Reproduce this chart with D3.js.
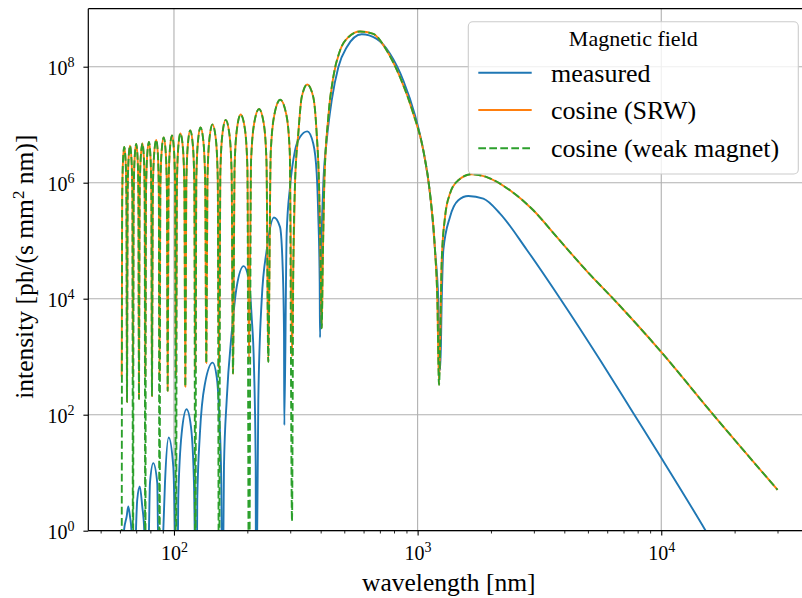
<!DOCTYPE html>
<html><head><meta charset="utf-8">
<script src="https://cdn.jsdelivr.net/npm/d3@7"></script>
<style>body{margin:0;background:#fff}svg{display:block}</style>
</head><body>
<svg id="chart" width="802" height="598"></svg>
<script>
// ---------- data ----------
const modelWavelength = [
  61.0, 61.3, 61.75, 62.5, 63.33, 63.82, 64.15,
  64.52, 65.07, 65.99, 66.94, 67.51, 67.89,
  68.31, 68.95, 70.0, 70.91, 71.46, 71.82,
  72.30, 73.03, 74.24, 75.24, 75.83, 76.23,
  76.77, 77.59, 78.94, 80.08, 80.76, 81.21,
  81.88, 82.90, 84.58, 85.89, 86.67, 87.19,
  87.90, 88.96, 90.72, 92.47, 93.52, 94.22,
  95.0, 96.18, 98.13, 100.0, 101.1, 101.9,
  102.8, 104.1, 106.3, 108.8, 110.3, 111.3,
  112.4, 114.0, 116.6, 119.5, 121.2, 122.3,
  123.5, 125.4, 128.5, 132.1, 134.3, 135.7,
  137.3, 139.8, 143.9, 148.5, 151.2, 153.0,
  155.0, 158.0, 163.0, 168.9, 172.4, 174.7,
  177.3, 181.3, 187.8, 195.5, 200.1, 203.2,
  207.2, 213.3, 223.4, 233.6, 239.7, 243.8,
  249.6, 258.4, 272.9, 289.0, 298.7, 305.1,
  308.9, 313.9, 323.8, 334.4, 352.5, 373.1, 385.3, 393.8, 400.2, 404.0,
  407.8, 414.0, 429.9, 450.7, 480.3, 519.4, 580.2, 658.0, 746.9, 846.9, 960.3, 1055.4, 1124.4, 1178.8, 1204.9, 1224,
  1256, 1296, 1358, 1469, 1668, 1922, 2394, 2985, 3724, 4946, 6567, 10010, 16370, 30000
];
const srwIntensity = [
  457, 5.2e5, 2.32e6, 4.12e6, 2.32e6, 5.2e5, 166,
  5.5e5, 2.45e6, 4.36e6, 2.45e6, 5.5e5, 457,
  5.9e5, 2.63e6, 4.68e6, 2.63e6, 5.9e5, 186,
  6.0e5, 2.68e6, 4.76e6, 2.68e6, 6.0e5, 457,
  6.4e5, 2.84e6, 5.06e6, 2.84e6, 6.4e5, 209,
  6.9e5, 3.07e6, 5.47e6, 3.07e6, 6.9e5, 500,
  7.6e5, 3.39e6, 6.04e6, 3.39e6, 7.6e5, 257,
  8.3e5, 3.68e6, 6.55e6, 3.68e6, 8.3e5, 500,
  8.9e5, 3.98e6, 7.08e6, 3.98e6, 8.9e5, 302,
  1.0e6, 4.48e6, 7.98e6, 4.48e6, 1.0e6, 562,
  1.13e6, 5.05e6, 8.99e6, 5.05e6, 1.13e6, 776,
  1.27e6, 5.7e6, 1.01e7, 5.7e6, 1.27e6, 631,
  1.52e6, 6.8e6, 1.21e7, 6.8e6, 1.52e6, 513,
  1.89e6, 8.4e6, 1.50e7, 8.4e6, 1.89e6, 794,
  2.36e6, 1.05e7, 1.87e7, 1.05e7, 2.36e6, 813,
  3.4e6, 1.51e7, 2.69e7, 1.51e7, 3.4e6, 1000,
  3.54e4, 9.66e5, 7.0e6, 2.99e7, 4.94e7, 2.99e7, 7.0e6, 9.66e5, 3.54e4, 3080,
  3.54e4, 9.66e5, 1.35e7, 6.59e7, 1.90e8, 3.22e8, 4.04e8, 3.68e8, 1.90e8, 6.59e7, 1.55e7, 3.61e6, 6.49e5, 6.85e4, 9.46e3, 326,
  4.61e4, 2.57e5, 6.49e5, 1.10e6, 1.40e6, 1.25e6, 7.40e5, 3.35e5, 1.16e5, 3.0e4, 8.6e3, 1.2e3, 99.3, 5.08
];
const weakMagnetIntensity = [
  0.01, 5.2e5, 2.32e6, 4.12e6, 2.32e6, 5.2e5, 166,
  5.5e5, 2.45e6, 4.36e6, 2.45e6, 5.5e5, 0.01,
  5.9e5, 2.63e6, 4.68e6, 2.63e6, 5.9e5, 186,
  6.0e5, 2.68e6, 4.76e6, 2.68e6, 6.0e5, 0.01,
  6.4e5, 2.84e6, 5.06e6, 2.84e6, 6.4e5, 209,
  6.9e5, 3.07e6, 5.47e6, 3.07e6, 6.9e5, 0.01,
  7.6e5, 3.39e6, 6.04e6, 3.39e6, 7.6e5, 257,
  8.3e5, 3.68e6, 6.55e6, 3.68e6, 8.3e5, 0.01,
  8.9e5, 3.98e6, 7.08e6, 3.98e6, 8.9e5, 302,
  1.0e6, 4.48e6, 7.98e6, 4.48e6, 1.0e6, 0.01,
  1.13e6, 5.05e6, 8.99e6, 5.05e6, 1.13e6, 776,
  1.27e6, 5.7e6, 1.01e7, 5.7e6, 1.27e6, 0.01,
  1.52e6, 6.8e6, 1.21e7, 6.8e6, 1.52e6, 513,
  1.89e6, 8.4e6, 1.50e7, 8.4e6, 1.89e6, 0.01,
  2.36e6, 1.05e7, 1.87e7, 1.05e7, 2.36e6, 813,
  3.4e6, 1.51e7, 2.69e7, 1.51e7, 3.4e6, 1.45,
  3.54e4, 9.66e5, 7.0e6, 2.99e7, 4.94e7, 2.99e7, 7.0e6, 9.66e5, 3.54e4, 3080,
  3.54e4, 9.66e5, 1.35e7, 6.59e7, 1.90e8, 3.22e8, 4.04e8, 3.68e8, 1.90e8, 6.59e7, 1.55e7, 3.61e6, 6.49e5, 6.85e4, 9.46e3, 326,
  4.61e4, 2.57e5, 6.49e5, 1.10e6, 1.40e6, 1.25e6, 7.40e5, 3.35e5, 1.16e5, 3.0e4, 8.6e3, 1.2e3, 99.3, 5.08
];
const measuredWavelength = [
  61.0, 62.34, 63.96, 64.93, 65.99, 66.93, 68.2,
  69.82, 70.67, 72.37, 74.1, 75.52, 76.74,
  78.94, 79.69, 82.22, 85.4, 85.96, 88.03,
  90.39, 91.85, 95.11, 99.34, 100.95, 102.9,
  104.1, 107.55, 112.6, 117.4, 120.8, 123.7,
  124.6, 127.8, 134.1, 144.2, 149.7, 153.5, 156.4, 157.9,
  160.4, 164.6, 172.5, 180.9, 193.2, 201.8, 208.4, 213.0, 216.5, 217.1,
  221.9, 229.1, 240.2, 257.3, 272.3, 279.3, 282.9, 283.7,
  290.1, 299.4, 313.9, 329.0, 352.5, 373.1, 385.3, 391.2, 396.4, 397.6,
  404.0, 410.2, 423.6, 444.0, 472.6, 511.7, 589.5, 679.4, 770.4, 873.7, 975.7, 1055.4, 1124.4, 1178.8, 1216, 1239,
  1256, 1275, 1358, 1469, 1615, 1861, 2179, 2805, 3843, 5609, 7684, 10010, 15130, 30000
];
const measuredIntensity = [
  0.01, 1, 1.76, 2.62, 1.76, 1, 0.01,
  1, 3.42, 5.78, 2.62, 1, 0.01,
  1, 6.62, 14.6, 6.62, 1, 0.01,
  1, 6.62, 40.4, 12.8, 1, 0.01,
  3.42, 47.9, 124, 62.4, 6.62, 0.01,
  3.42, 47.9, 347, 789, 453, 92.7, 6.62, 0.01,
  12.8, 180, 2.53e3, 1.60e4, 3.64e4, 2.38e4, 4.88e3, 673, 12.8, 0.01,
  180, 9.46e3, 6.85e4, 2.51e5, 1.73e5, 3.54e4, 2.56e3, 66,
  1.35e5, 8.43e5, 3.61e6, 6.12e6, 7.67e6, 4.71e6, 1.44e6, 2.57e5, 1.83e4, 2.14e3,
  1.35e5, 9.66e5, 5.37e6, 2.62e7, 9.82e7, 2.17e8, 3.62e8, 3.02e8, 1.67e8, 5.78e7, 1.45e7, 3.61e6, 6.49e5, 6.85e4, 9.46e3, 589,
  9.46e3, 6.85e4, 2.57e5, 4.98e5, 5.90e5, 5.32e5, 2.94e5, 7.0e4, 1.01e4, 877, 106, 17.9, 1.04, 0.0063
];
const xMajorTicks = [100, 1000, 10000];
const xMajorExponents = ["2", "3", "4"];
const xMinorTicks = [50, 60, 70, 80, 90, 200, 300, 400, 500, 600, 700, 800, 900,
  2000, 3000, 4000, 5000, 6000, 7000, 8000, 9000, 20000, 30000, 40000];
const yMajorTicks = [1, 1e2, 1e4, 1e6, 1e8];
const yMajorExponents = ["0", "2", "4", "6", "8"];
const seriesNames = ["measured", "cosine (SRW)", "cosine (weak magnet)"];
const seriesColors = ["#1f77b4", "#ff7f0e", "#2ca02c"];
const legendTitle = "Magnetic field";
const xLabel = "wavelength [nm]";

// ---------- layout ----------
const L = 88.3, R = 810.3, T = 8.7, B = 530.7;
const svg = d3.select("#chart");
const x = d3.scaleLog().domain([44.5, 40900]).range([L, R]);
const y = d3.scaleLog().domain([1, 1e9]).range([B, T]);
const FONT = "'Liberation Serif', 'DejaVu Serif', serif";

svg.append("defs").append("clipPath").attr("id", "plotclip")
  .append("rect").attr("x", L).attr("y", T).attr("width", R - L).attr("height", B - T);

// grid
const grid = svg.append("g").attr("stroke", "#b0b0b0").attr("stroke-width", 1.1);
xMajorTicks.forEach(v => grid.append("line").attr("x1", x(v)).attr("x2", x(v)).attr("y1", T).attr("y2", B));
yMajorTicks.forEach(v => grid.append("line").attr("x1", L).attr("x2", R).attr("y1", y(v)).attr("y2", y(v)));

// lines
const line = d3.line()
  .x(d => x(d[0]))
  .y(d => y(Math.max(d[1], 1e-4)))
  .curve(d3.curveMonotoneX);
const plot = svg.append("g").attr("clip-path", "url(#plotclip)");
const measured = measuredWavelength.map((w, i) => [w, measuredIntensity[i]]);
const srw = modelWavelength.map((w, i) => [w, srwIntensity[i]]);
const weak = modelWavelength.map((w, i) => [w, weakMagnetIntensity[i]]);
plot.append("path").datum(measured).attr("d", line).attr("fill", "none")
  .attr("stroke", seriesColors[0]).attr("stroke-width", 1.9).attr("stroke-linejoin", "round");
plot.append("path").datum(srw).attr("d", line).attr("fill", "none")
  .attr("stroke", seriesColors[1]).attr("stroke-width", 1.9).attr("stroke-linejoin", "round");
plot.append("path").datum(weak).attr("d", line).attr("fill", "none")
  .attr("stroke", seriesColors[2]).attr("stroke-width", 1.9).attr("stroke-dasharray", "7.7,3.3");

// spines
const sp = svg.append("g").attr("stroke", "#000").attr("stroke-width", 1.2).attr("fill", "none");
sp.append("line").attr("x1", L).attr("x2", L).attr("y1", T).attr("y2", B);
sp.append("line").attr("x1", L).attr("x2", R).attr("y1", B).attr("y2", B);
sp.append("line").attr("x1", L).attr("x2", R).attr("y1", T).attr("y2", T);

// axes
const gxMinor = svg.append("g").attr("transform", `translate(0,${B})`)
  .call(d3.axisBottom(x).tickValues(xMinorTicks).tickSize(2.8).tickFormat(() => ""));
gxMinor.select(".domain").remove();
gxMinor.selectAll(".tick line").attr("stroke-width", 0.85);

const gx = svg.append("g").attr("transform", `translate(0,${B})`)
  .call(d3.axisBottom(x).tickValues(xMajorTicks).tickSize(4.9));
gx.select(".domain").remove();
gx.selectAll(".tick line").attr("stroke-width", 1.1);
gx.selectAll(".tick text").each(function(d, i) {
  const t = d3.select(this).text(null).attr("dy", null).attr("y", 29.3)
    .attr("font-family", FONT).attr("font-size", 20).attr("fill", "#000");
  t.append("tspan").text("10");
  t.append("tspan").attr("dy", -8).attr("font-size", 14).text(xMajorExponents[i]);
});

const gy = svg.append("g").attr("transform", `translate(${L},0)`)
  .call(d3.axisLeft(y).tickValues(yMajorTicks).tickSize(4.9).tickPadding(9));
gy.select(".domain").remove();
gy.selectAll(".tick line").attr("stroke-width", 1.1);
gy.selectAll(".tick text").each(function(d, i) {
  const t = d3.select(this).text(null).attr("dy", null).attr("y", 7.3)
    .attr("font-family", FONT).attr("font-size", 20).attr("fill", "#000");
  t.append("tspan").text("10");
  t.append("tspan").attr("dy", -8).attr("font-size", 14).text(yMajorExponents[i]);
});
svg.selectAll(".tick text").attr("font-family", FONT);

// axis labels
svg.append("text").attr("x", (L + R) / 2 - 0.5).attr("y", 590.5).attr("text-anchor", "middle")
  .attr("font-family", FONT).attr("font-size", 25.5).text(xLabel);
const yl = svg.append("text").attr("transform", "translate(32.5,266.7) rotate(-90)")
  .attr("text-anchor", "middle").attr("font-family", FONT).attr("font-size", 25.5);
yl.append("tspan").text("intensity [ph/(s mm");
yl.append("tspan").attr("dy", -9).attr("font-size", 17).text("2");
yl.append("tspan").attr("dy", 9).text(" nm)]");

// legend
const lg = svg.append("g");
lg.append("rect").attr("x", 468.3).attr("y", 21.7).attr("width", 330).attr("height", 152.3)
  .attr("rx", 4.5).attr("fill", "#fff").attr("fill-opacity", 0.8)
  .attr("stroke", "#cccccc").attr("stroke-width", 1.1);
lg.append("text").attr("x", 633.3).attr("y", 45.7).attr("text-anchor", "middle")
  .attr("font-family", FONT).attr("font-size", 22).text(legendTitle);
const rowY = [72.7, 110.0, 148.3];
seriesNames.forEach((name, i) => {
  const ln = lg.append("line").attr("x1", 478.3).attr("x2", 531.7).attr("y1", rowY[i]).attr("y2", rowY[i])
    .attr("stroke", seriesColors[i]).attr("stroke-width", 1.9);
  if (i === 2) ln.attr("stroke-dasharray", "7.7,3.3");
  lg.append("text").attr("x", 551).attr("y", rowY[i] + 8.8)
    .attr("font-family", FONT).attr("font-size", 26).text(name);
});
</script>
</body></html>
